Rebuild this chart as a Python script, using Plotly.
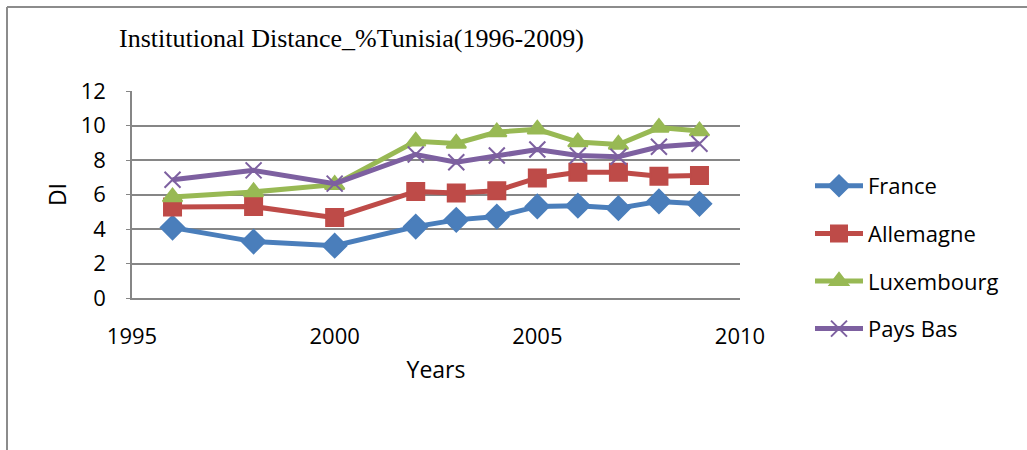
import plotly.graph_objects as go

# data
years = [1996, 1998, 2000, 2002, 2003, 2004, 2005, 2006, 2007, 2008, 2009]
france = [4.08, 3.27, 3.03, 4.14, 4.53, 4.72, 5.31, 5.35, 5.21, 5.60, 5.46]
allemagne = [5.28, 5.30, 4.66, 6.18, 6.09, 6.22, 6.96, 7.29, 7.29, 7.06, 7.10]
luxembourg = [5.85, 6.15, 6.57, 9.08, 8.96, 9.62, 9.78, 9.04, 8.90, 9.88, 9.68]
pays_bas = [6.86, 7.40, 6.63, 8.32, 7.87, 8.26, 8.61, 8.26, 8.19, 8.77, 8.94]

series = [
  ("France", france, "#4a7ebb", "diamond", 18),
  ("Allemagne", allemagne, "#be4b48", "square", 17),
  ("Luxembourg", luxembourg, "#98b954", "triangle-up", 17),
  ("Pays Bas", pays_bas, "#7d60a0", "x-thin-open", 16),
]

fig = go.Figure()
for name, vals, col, sym, sz in series:
  fig.add_trace(go.Scatter(
    x=years, y=vals, name=name, mode="lines+markers",
    legendgroup=name,
    line=dict(color=col, width=5),
    marker=dict(symbol=sym, size=sz, color=col, line=dict(color=col, width=2)),
  ))

L, R, T, B = 132, 287, 91, 152
W, H = 1027, 450
pw = W - L - R
ph = H - T - B

fig.update_layout(
  width=W, height=H,
  margin=dict(l=L, r=R, t=T, b=B),
  paper_bgcolor="white", plot_bgcolor="white",
  font=dict(family="Open Sans", size=19, color="black"),
  title=dict(text="Institutional Distance_%Tunisia(1996-2009)",
             font=dict(family="Liberation Serif", size=26, color="black"),
             x=119 / W, xanchor="left", y=1 - 38 / H, yanchor="middle"),
  legend=dict(x=(810 - L) / pw, xanchor="left", y=1 - (165 - T) / ph, yanchor="top",
              tracegroupgap=16, font=dict(size=22), itemwidth=48),
  showlegend=True,
)
fig.update_xaxes(range=[1995, 2010], dtick=5, showgrid=False, zeroline=False,
                 showline=True, linecolor="#868686", linewidth=1.5,
                 ticks="", ticklabelstandoff=18,
                 title=dict(text="Years", standoff=13), tickfont=dict(size=22))
fig.update_yaxes(range=[0, 12], dtick=2, showgrid=True, gridcolor="#868686", gridwidth=1.5,
                 zeroline=False, showline=True, linecolor="#868686", linewidth=1.5,
                 ticks="outside", ticklen=4, tickcolor="#868686", ticklabelstandoff=16,
                 title=dict(text="DI", standoff=8, font=dict(size=23)), tickfont=dict(size=22))

# outer chart border (top and left only visible)
fig.add_shape(type="line", xref="paper", yref="paper",
              x0=(7 - L) / pw, x1=(W + 5 - L) / pw, y0=1 + (T - 7) / ph, y1=1 + (T - 7) / ph,
              line=dict(color="#8c8c8c", width=2))
fig.add_shape(type="line", xref="paper", yref="paper",
              x0=(7 - L) / pw, x1=(7 - L) / pw, y0=1 + (T - 7) / ph, y1=-(B + 5) / ph,
              line=dict(color="#8c8c8c", width=2))

fig.write_html("out.html", config={"displayModeBar": False},
               post_script="document.body.style.margin='0';")
